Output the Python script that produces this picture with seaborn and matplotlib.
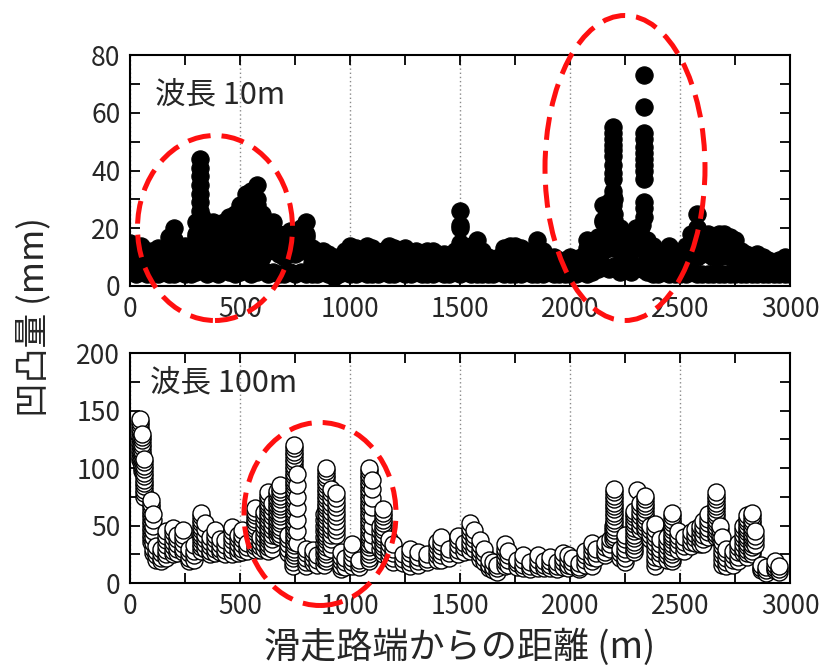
import numpy as np
import pandas as pd
import seaborn as sns
import matplotlib
matplotlib.use("Agg")
import matplotlib.pyplot as plt
from matplotlib.patches import Ellipse
from matplotlib.ticker import MultipleLocator

# --- top panel (wavelength 10 m): band read at 25 m steps ---
top_x = [0, 25, 50, 75, 100, 125, 150, 175, 200, 225, 250, 275, 300, 325, 350,
         375, 400, 425, 450, 475, 500, 525, 550, 575, 600, 625, 650, 675, 700, 725,
         750, 775, 800, 825, 850, 875, 900, 925, 950, 975, 1000, 1025, 1050, 1075,
         1100, 1125, 1150, 1175, 1200, 1225, 1250, 1275, 1300, 1325, 1350, 1375,
         1400, 1425, 1450, 1475, 1500, 1525, 1550, 1575, 1600, 1625, 1650, 1675,
         1700, 1725, 1750, 1775, 1800, 1825, 1850, 1875, 1900, 1925, 1950, 1975,
         2000, 2025, 2050, 2075, 2100, 2125, 2150, 2175, 2200, 2225, 2250, 2275,
         2300, 2325, 2350, 2375, 2400, 2425, 2450, 2475, 2500, 2525, 2550, 2575,
         2600, 2625, 2650, 2675, 2700, 2725, 2750, 2775, 2800, 2825, 2850, 2875,
         2900, 2925, 2950, 2975, 3000]
top_lo = [5, 4, 5, 4, 4, 4, 5, 4, 4, 5, 4, 4, 5, 6, 4, 5, 4, 6, 5, 4, 5, 6, 4, 5, 6,
          4, 5, 4, 4, 5, 4, 5, 4, 4, 4, 5, 4, 3, 4, 5, 4, 4, 5, 4, 4, 4, 5, 4, 4, 5,
          4, 4, 5, 4, 4, 4, 5, 4, 4, 5, 4, 5, 4, 4, 4, 4, 4, 5, 4, 4, 4, 4, 5, 4, 4,
          4, 5, 4, 4, 4, 4, 4, 5, 4, 5, 6, 7, 6, 7, 5, 6, 5, 7, 6, 5, 4, 4, 5, 4, 4,
          4, 4, 5, 4, 4, 4, 4, 4, 4, 4, 4, 4, 4, 4, 4, 4, 4, 4, 4, 4, 4]
top_mid = [10, 9, 9, 8, 8, 8, 8, 10, 12, 9, 9, 8, 13, 15, 13, 13, 12, 14, 14, 14,
           16, 18, 18, 20, 15, 12, 13, 11, 10, 12, 11, 12, 13, 8, 8, 8, 7, 7, 7, 8,
           9, 8, 8, 9, 8, 7, 8, 9, 8, 8, 8, 7, 8, 7, 8, 7, 8, 7, 7, 8, 15, 9, 8, 10,
           7, 7, 7, 7, 8, 9, 8, 8, 8, 7, 10, 8, 7, 7, 7, 7, 7, 7, 7, 10, 9, 11, 17,
           18, 18, 12, 11, 12, 13, 13, 10, 9, 7, 8, 9, 8, 7, 9, 11, 14, 11, 11, 10,
           10, 11, 10, 10, 8, 7, 7, 7, 7, 7, 6, 7, 7, 7]
top_mid2 = [13, 12, 12, 10, 10, 11, 10, 14, 16, 11, 12, 11, 18, 19, 18, 18, 17, 18,
            19, 20, 22, 25, 26, 28, 20, 16, 17, 15, 14, 15, 15, 16, 18, 11, 10, 10,
            9, 8, 8, 10, 12, 11, 10, 12, 11, 9, 10, 12, 11, 10, 11, 9, 10, 9, 10,
            10, 10, 9, 8, 10, 20, 11, 12, 13, 10, 9, 8, 9, 11, 12, 12, 11, 10, 9,
            13, 10, 9, 8, 8, 8, 8, 8, 9, 13, 12, 14, 22, 23, 23, 16, 14, 15, 17,
            17, 13, 12, 9, 9, 12, 10, 9, 12, 15, 20, 15, 15, 14, 15, 15, 14, 13,
            10, 9, 8, 9, 8, 8, 7, 8, 8, 8]
top_hi = [15, 14, 14, 12, 12, 13, 12, 17, 20, 13, 14, 13, 22, 24, 22, 22, 21, 22,
          24, 25, 28, 32, 33, 35, 25, 20, 22, 18, 17, 19, 18, 20, 22, 13, 12, 12,
          11, 10, 9, 12, 14, 13, 11, 14, 13, 11, 12, 14, 13, 12, 13, 11, 12, 11, 12,
          12, 11, 11, 10, 12, 26, 13, 14, 16, 12, 10, 9, 10, 13, 14, 14, 13, 12, 11,
          16, 12, 10, 10, 9, 9, 10, 9, 10, 16, 14, 17, 28, 29, 30, 20, 16, 18, 20,
          21, 16, 14, 11, 11, 14, 12, 11, 14, 18, 25, 18, 18, 17, 18, 18, 17, 16,
          12, 11, 10, 11, 10, 9, 8, 9, 10, 9]
# spikes and filling of the taller stretches
spike_x = [200, 300, 300, 318, 318, 318, 318, 318, 318, 318, 318, 318, 318, 318,
           325, 350, 350, 375, 375, 400, 400, 425, 425, 450, 450, 475, 475, 500,
           500, 525, 525, 525, 525, 550, 550, 550, 550, 575, 575, 575, 575, 600,
           600, 650, 800, 1500, 1500, 2150, 2150, 2175, 2175, 2200, 2200,
           2197, 2197, 2197, 2197, 2197, 2197, 2197, 2197, 2197, 2197, 2197, 2197,
           2300, 2325, 2336, 2336, 2336, 2336, 2336, 2336, 2336, 2336, 2336, 2336,
           2336, 2336, 2336, 2575, 2575]
spike_y = [16, 17, 9, 44, 41, 38, 35, 32, 29, 26, 22, 18, 14, 10,
           10, 18, 9, 18, 9, 16, 8, 18, 10, 19, 9, 20, 9, 22,
           11, 27, 22, 13, 8, 28, 23, 13, 9, 30, 25, 14, 9, 20,
           10, 17, 17, 21, 10, 23, 12, 24, 13, 25, 13,
           55, 53, 51, 49, 47, 45, 42, 39, 37, 33, 31, 28,
           17, 17, 73, 62, 53, 51, 48, 46, 44, 42, 40, 37,
           29, 27, 24, 20, 10]

# --- bottom panel (wavelength 100 m): stacks of readings per position ---
bot_col_x = [45, 55, 65, 95, 105, 120, 140, 165, 197, 215, 240, 270, 290, 323, 340,
             365, 385, 410, 432, 462, 490, 510, 530, 568, 590, 610, 628, 645, 668,
             682, 720, 740, 745, 760, 800, 830, 850, 880, 890, 915, 935, 960, 975,
             1008, 1040, 1085, 1100, 1135, 1150, 1175, 1196, 1240, 1273, 1310, 1350,
             1395, 1415, 1450, 1490, 1520, 1545, 1565, 1590, 1610, 1630, 1650, 1670,
             1705, 1720, 1760, 1786, 1820, 1855, 1880, 1910, 1940, 1968, 1990, 2010,
             2040, 2070, 2098, 2120, 2160, 2180, 2195, 2200, 2225, 2250, 2290, 2303,
             2320, 2340, 2365, 2386, 2410, 2440, 2465, 2490, 2520, 2550, 2568, 2590,
             2605, 2625, 2662, 2680, 2690, 2710, 2740, 2765, 2785, 2803, 2825, 2840,
             2870, 2890, 2932, 2950]
bot_col_y = [
    [143, 140, 137, 134, 131, 128, 125, 122, 119, 116, 113, 110, 107],
    [130, 127, 124, 121, 118, 115, 112, 109, 106, 103, 100, 97],
    [108, 105, 102, 99, 96, 93, 90, 87, 84, 81, 78, 75],
    [72, 69, 66, 63, 60, 57, 54, 51, 48, 45, 42, 39, 36],
    [60, 55, 50, 45, 40, 35, 30, 26],
    [32, 28, 24, 20],
    [30, 26, 22, 19],
    [45, 41, 37, 33, 29, 25, 22],
    [48, 44, 40, 36, 32, 28, 25],
    [42, 38, 34, 30, 26],
    [46, 42, 38, 34, 30, 27],
    [30, 26, 22, 19],
    [33, 28, 24, 20],
    [61, 58, 55, 52, 49, 46, 43, 40, 37, 34, 31, 28],
    [52, 47, 42, 38, 34, 30],
    [40, 36, 32, 28, 25],
    [46, 42, 38, 34, 30, 26],
    [38, 34, 30, 27],
    [37, 33, 29, 25],
    [49, 45, 41, 37, 33, 29, 25],
    [42, 38, 34, 30, 26],
    [46, 42, 38, 34, 30, 27],
    [35, 31, 28],
    [65, 62, 59, 56, 53, 50, 47, 44, 41, 38, 35, 32, 29],
    [40, 36, 32, 29],
    [62, 58, 54, 50, 46, 42, 38, 34, 30],
    [79, 76, 73, 70, 67, 64, 61, 58, 55, 52, 49, 46, 43, 40, 37, 34, 31, 28],
    [70, 66, 62, 58, 54, 50, 46, 42, 38, 34, 30],
    [80, 77, 74, 71, 68, 65, 62, 59, 56, 53, 50, 47, 44, 41],
    [85, 82, 79, 76, 73, 70, 67, 64, 61, 58, 55, 52, 49, 46, 43, 40],
    [42, 38, 34, 30, 26],
    [22, 18, 15],
    [120, 117, 114, 111, 108, 105, 102, 99, 96, 93, 90, 87, 84, 81, 78, 75, 72,
     69, 66, 63, 60, 57, 54, 51, 48, 45, 42, 39, 36, 33, 30, 27, 24],
    [95, 85, 75, 65, 55, 45, 35],
    [30, 26, 22, 18, 15],
    [29, 25, 21, 17],
    [24, 20, 16],
    [60, 55, 50, 45, 40, 35, 30, 25, 20, 16],
    [100, 97, 94, 91, 88, 85, 82, 79, 76, 73, 70, 67, 64, 61, 58, 55, 52, 49,
     46, 43, 40, 37, 34, 31, 28, 25, 22, 19],
    [82, 78, 74, 70, 66, 62, 58, 54, 50, 46, 42, 38, 34, 30],
    [78, 74, 70, 66, 62, 58, 54, 50, 46, 42],
    [27, 23, 19, 15, 12],
    [22, 18, 14],
    [34, 30, 26, 22, 18, 15],
    [20, 17, 14],
    [100, 97, 94, 91, 88, 85, 82, 79, 76, 73, 70, 67, 64, 61, 58, 55, 52, 49,
     46, 43, 40, 37, 34, 31, 28, 25, 22, 19],
    [90, 82, 74, 66, 58, 50, 42, 34],
    [50, 45, 40, 35, 30],
    [64, 61, 58, 55, 52, 49, 46, 43, 40, 37, 34, 31, 28, 25],
    [38, 34, 30, 26, 22],
    [34, 30, 26, 22, 18],
    [25, 21, 17],
    [30, 26, 22, 18, 15],
    [27, 23, 19, 16],
    [25, 21, 18],
    [36, 32, 28, 24, 20],
    [40, 36, 32, 28, 24, 20],
    [30, 26, 22],
    [41, 37, 33, 29, 25],
    [35, 31, 27],
    [52, 48, 44, 40, 36, 32, 28],
    [46, 42, 38, 34, 30],
    [37, 33, 29, 25, 21],
    [30, 26, 22, 18],
    [20, 16, 13],
    [18, 14, 11],
    [16, 13, 10],
    [34, 30, 26, 22, 18, 15],
    [28, 24, 20, 16],
    [20, 17, 14],
    [24, 20, 16, 13],
    [18, 15, 12],
    [24, 20, 16, 13],
    [19, 16, 13],
    [23, 19, 16, 13],
    [18, 15, 12],
    [26, 22, 18, 14],
    [24, 20, 16, 13],
    [22, 18, 15],
    [17, 14, 12],
    [28, 24, 20, 16],
    [35, 31, 27, 23, 19, 15],
    [30, 26, 22],
    [35, 31, 27, 24],
    [38, 34, 30],
    [50, 46, 42, 38],
    [82, 79, 76, 73, 70, 67, 64, 61, 58, 55, 52, 49, 46, 43, 40],
    [30, 26, 22],
    [42, 38, 34, 30, 26, 22, 18],
    [63, 60, 57, 54, 51, 48, 45, 42, 39, 36, 33, 30, 27],
    [81],
    [70, 66, 62, 58, 54, 50, 46],
    [76, 73, 70, 67, 64, 61, 58, 55, 52, 49, 46],
    [50, 46, 42, 38],
    [51, 47, 43, 39, 35, 31, 27, 23, 19, 15],
    [38, 34, 30, 26, 22],
    [40, 36, 32, 28, 24, 20],
    [61, 58, 55, 52, 49, 46, 43, 40, 37, 34, 31, 28, 25, 22, 19],
    [45, 41, 37, 33, 29],
    [40, 36, 32, 28],
    [44, 40, 36, 32],
    [47, 43, 39, 35],
    [50, 46, 42, 38, 34],
    [54, 50, 46, 42, 38, 34],
    [60, 56, 52, 48, 44, 40],
    [79, 76, 73, 70, 67, 64, 61, 58, 55, 52, 49, 46, 43, 40],
    [50, 46, 42, 38],
    [40, 36, 32, 28, 24, 20, 16],
    [30, 26, 22, 18, 15],
    [28, 24, 20, 16],
    [35, 31, 27, 23, 19],
    [50, 46, 42, 38, 34, 30, 26],
    [59, 56, 53, 50, 47, 44, 41, 38, 35, 32, 29, 26, 23],
    [61, 58, 55, 52, 49, 46, 43, 40, 37, 34, 31, 28, 25],
    [45, 41, 37, 33],
    [16, 13, 11],
    [14, 11, 9],
    [19, 16, 13, 11],
    [15, 12, 10],
]

top_df = pd.DataFrame({
    "x": top_x * 4 + spike_x,
    "y": top_lo + top_mid + top_mid2 + top_hi + spike_y,
})
rows = []
for cx, ys in zip(bot_col_x, bot_col_y):
    for v in sorted(ys):  # lower readings first so the top ring stays whole
        rows.append((cx, v))
bot_df = pd.DataFrame(rows, columns=["x", "y"])

sns.set_theme(style="ticks")
plt.rcParams["font.family"] = ["Noto Sans CJK JP", "DejaVu Sans"]

fig = plt.figure(figsize=(8.26, 6.65), dpi=100)
ax1 = fig.add_axes([130 / 826, 1 - 286 / 665, 660 / 826, 231 / 665])
ax2 = fig.add_axes([130 / 826, 1 - 583 / 665, 660 / 826, 230 / 665])

sns.scatterplot(data=top_df, x="x", y="y", ax=ax1, s=155, color="black",
                edgecolor="black", linewidth=0.8, legend=False, zorder=3)
sns.scatterplot(data=bot_df, x="x", y="y", ax=ax2, s=150, color="white",
                edgecolor="black", linewidth=1.0, legend=False, zorder=3)

for ax, ymax, ymaj, ymin in [(ax1, 80, 20, 10), (ax2, 200, 50, 25)]:
    ax.set_xlim(0, 3000)
    ax.set_ylim(0, ymax)
    ax.xaxis.set_major_locator(MultipleLocator(500))
    ax.xaxis.set_minor_locator(MultipleLocator(250))
    ax.yaxis.set_major_locator(MultipleLocator(ymaj))
    ax.yaxis.set_minor_locator(MultipleLocator(ymin))
    ax.tick_params(which="both", direction="in", top=True, right=True,
                   length=7, width=1.3, color="black")
    ax.tick_params(which="major", labelsize=19, pad=7)
    ax.grid(True, axis="x", which="major", linestyle=(0, (1, 2)),
            color="#8a8a8a", linewidth=1)
    ax.set_axisbelow(True)
    for sp in ax.spines.values():
        sp.set_linewidth(1.5)
        sp.set_color("black")
    ax.set_xlabel("")
    ax.set_ylabel("")

ax1.text(0.038, 0.827, "波長 10m", transform=ax1.transAxes, fontsize=22,
         ha="left", va="center")
ax2.text(0.03, 0.87, "波長 100m", transform=ax2.transAxes, fontsize=22,
         ha="left", va="center")

fig.text(460 / 826, 1 - 647 / 665, "滑走路端からの距離 (m)", fontsize=26,
         ha="center", va="center")
fig.text(34 / 826, 1 - 317 / 665, "凹凸量 (mm)", fontsize=25, rotation=90,
         ha="center", va="center")

# red dashed ellipses (pixel positions, origin top-left of the figure)
for cx, cy, w, h in [(215, 228, 155, 185), (625, 168, 160, 305), (320, 514, 152, 183)]:
    e = Ellipse((cx / 100, (665 - cy) / 100), w / 100, h / 100,
                transform=fig.dpi_scale_trans, fill=False, edgecolor="#ff1010",
                linewidth=3.6, linestyle=(0, (4.6, 2.2)), zorder=10)
    fig.add_artist(e)

fig.savefig("out.png", dpi=100)
